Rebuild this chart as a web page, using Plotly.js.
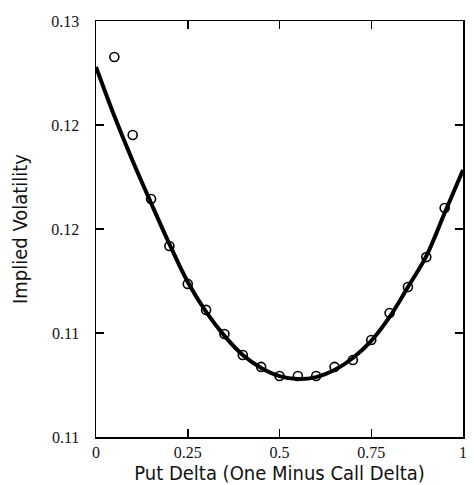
<!DOCTYPE html>
<html>
<head>
<meta charset="utf-8">
<script src="https://cdn.plot.ly/plotly-3.0.1.min.js"></script>
<style>html,body{margin:0;padding:0;background:#fff;}#chart{width:474px;height:485px;}</style>
</head>
<body>
<div id="chart"></div>
<script>
// Observed implied volatilities (circles)
const obsDelta = [0.05,0.10,0.15,0.20,0.25,0.30,0.35,0.40,0.45,0.50,0.55,0.60,0.65,0.70,0.75,0.80,0.85,0.90,0.95];
const obsVol   = [0.12827,0.12452,0.12144,0.11918,0.11736,0.11611,0.11495,0.11394,0.11337,0.11293,0.11293,0.11293,0.11337,0.11370,0.11466,0.11596,0.11721,0.11865,0.12101];
// Fitted smile curve
const fitDelta = [0,0.05,0.10,0.15,0.20,0.25,0.30,0.35,0.40,0.45,0.50,0.55,0.60,0.65,0.70,0.75,0.80,0.85,0.90,0.95,1.00];
const fitVol   = [0.12779,0.12543,0.12327,0.12125,0.11928,0.11745,0.11601,0.11486,0.11394,0.11332,0.11293,0.11279,0.11288,0.11322,0.11380,0.11462,0.11577,0.11721,0.11870,0.12077,0.12284];
// Tick labels
const xTickVals = [0,0.25,0.5,0.75,1];
const xTickText = ["0","0.25","0.5","0.75","1"];
const yTickVals = [0.11,0.115,0.12,0.125,0.13];
const yTickText = ["0.11","0.11","0.12","0.12","0.13"];

const traces = [
  {x: fitDelta, y: fitVol, mode: 'lines', line: {color: '#000', width: 4, shape: 'spline'}, hoverinfo: 'skip'},
  {x: obsDelta, y: obsVol, mode: 'markers', marker: {symbol: 'circle-open', size: 9, color: '#000', line: {width: 1.6, color: '#000'}}}
];
const tickFont = {family: 'Liberation Serif', size: 16, color: '#111'};
const titleFont = {family: 'DejaVu Sans Condensed', size: 20, color: '#111'};
const layout = {
  width: 474, height: 485,
  margin: {l: 96, r: 11, t: 21, b: 48},
  paper_bgcolor: '#fff', plot_bgcolor: '#fff',
  showlegend: false,
  xaxis: {
    range: [0, 1], tickmode: 'array', tickvals: xTickVals, ticktext: xTickText,
    ticks: 'inside', ticklen: 8, tickwidth: 1.5, tickcolor: '#000',
    showline: true, linecolor: '#000', linewidth: 1.5, mirror: 'ticks',
    showgrid: false, zeroline: false, tickfont: tickFont,
    title: {text: 'Put Delta (One Minus Call Delta)', font: titleFont, standoff: 1}
  },
  yaxis: {
    range: [0.11, 0.13], tickmode: 'array', tickvals: yTickVals, ticktext: yTickText,
    ticks: 'inside', ticklen: 8, tickwidth: 1.5, tickcolor: '#000',
    showline: true, linecolor: '#000', linewidth: 1.5, mirror: 'ticks',
    showgrid: false, zeroline: false, tickfont: tickFont, ticklabelstandoff: 12,
    title: {text: 'Implied Volatility', font: titleFont, standoff: 18}
  }
};
Plotly.newPlot('chart', traces, layout, {displayModeBar: false, staticPlot: true});
</script>
</body>
</html>
